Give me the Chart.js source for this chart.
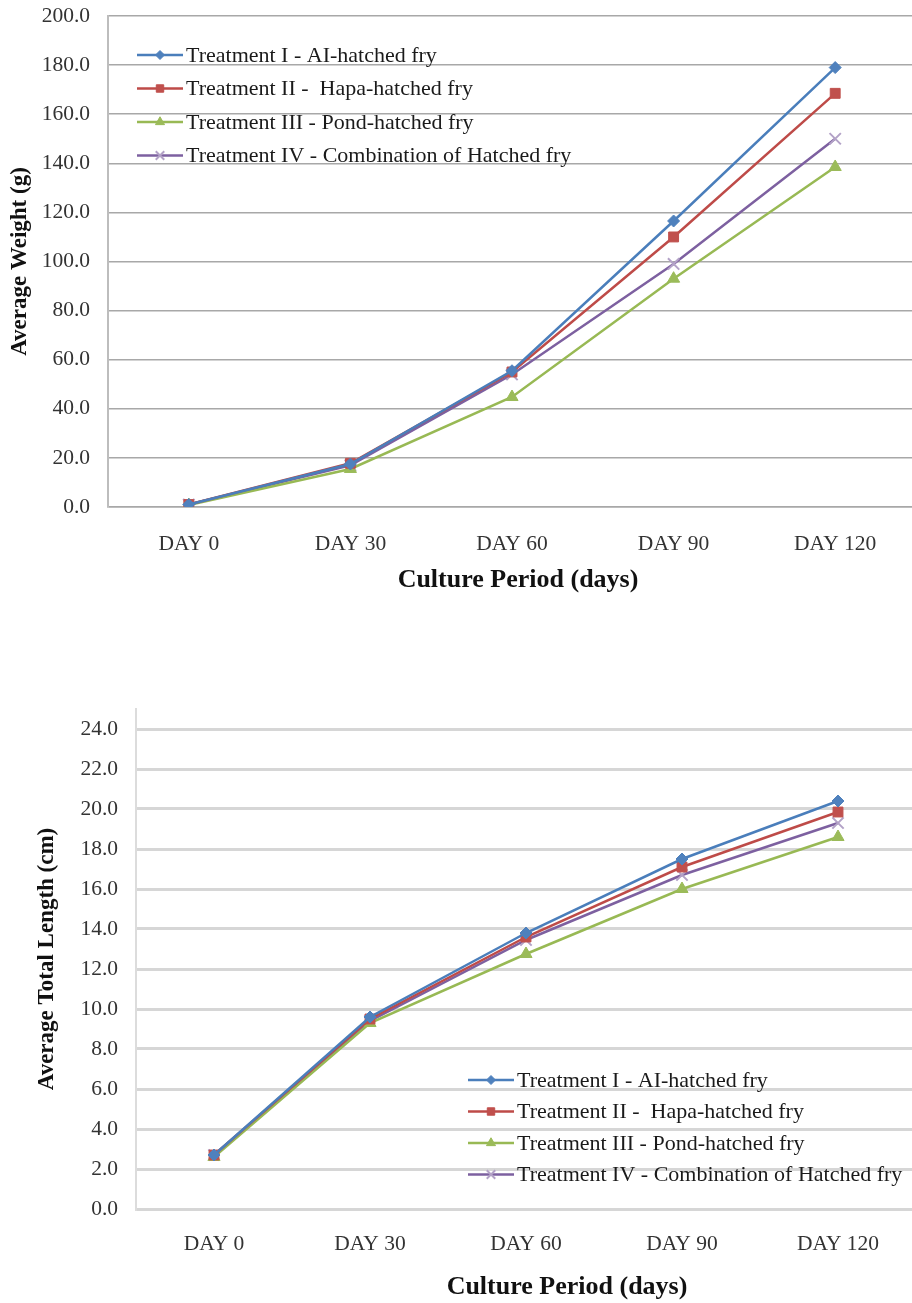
<!DOCTYPE html>
<html>
<head>
<meta charset="utf-8">
<script src="https://cdn.jsdelivr.net/npm/chart.js@4.4.1/dist/chart.umd.min.js"></script>
<style>
  html, body { margin: 0; padding: 0; background: #fff; overflow: hidden; }
  #wrapWeight { position: absolute; left: 0; top: 0; width: 926px; height: 600px; }
  #wrapLength { position: absolute; left: 0; top: 690px; width: 926px; height: 613px; }
</style>
</head>
<body>
<div id="wrapWeight"><canvas id="chartWeight"></canvas></div>
<div id="wrapLength"><canvas id="chartLength"></canvas></div>
<script>
// ---- dados ----
const categories = ['DAY 0', 'DAY 30', 'DAY 60', 'DAY 90', 'DAY 120'];
const seriesNames = [
  'Treatment I - AI-hatched fry',
  'Treatment II -  Hapa-hatched fry',
  'Treatment III - Pond-hatched fry',
  'Treatment IV - Combination of Hatched fry'
];

// peso médio (g)
const weightT1 = [1.0, 17.5, 55.5, 116.5, 179.0];
const weightT2 = [1.0, 17.8, 55.0, 110.0, 168.5];
const weightT3 = [0.8, 15.5, 44.8, 93.0, 138.5];
const weightT4 = [1.0, 17.0, 54.0, 99.0, 150.0];

// comprimento total médio (cm)
const lengthT1 = [2.7, 9.6, 13.8, 17.5, 20.4];
const lengthT2 = [2.7, 9.5, 13.6, 17.1, 19.85];
const lengthT3 = [2.6, 9.3, 12.75, 16.0, 18.6];
const lengthT4 = [2.7, 9.4, 13.45, 16.7, 19.3];

const weightTicks = { min: 0, max: 200, step: 20 };
const lengthTicks = { min: 0, max: 25, step: 2 };

const SERIF = "'Liberation Serif', 'Times New Roman', serif";

// estilo de cada série (cor da linha, marcador)
const estilos = [
  { line: '#4A7EBB', fill: '#4F81BD', style: 'rectRot', r: 6 },
  { line: '#BE4B48', fill: '#C0504D', style: 'rect', r: 7 },
  { line: '#98B954', fill: '#9BBB59', style: 'triangle', r: 7 },
  { line: '#7D60A0', fill: '#B3A2C7', style: 'crossRot', r: 8 }
];

function montarDatasets(series) {
  return series.map((valores, i) => {
    const e = estilos[i];
    return {
      label: seriesNames[i],
      data: valores,
      borderColor: e.line,
      borderWidth: 2.5,
      pointStyle: e.style,
      pointRadius: e.r,
      pointBackgroundColor: e.fill,
      pointBorderColor: e.fill,
      pointBorderWidth: e.style === 'crossRot' ? 2 : 1,
      tension: 0,
      fill: false
    };
  });
}

// Legenda desenhada dentro da área do gráfico
const legendaInterna = {
  id: 'legendaInterna',
  afterDraw(chart, args, opts) {
    const ctx = chart.ctx;
    ctx.save();
    ctx.font = '22px ' + SERIF;
    ctx.textBaseline = 'middle';
    ctx.textAlign = 'left';
    chart.data.datasets.forEach((ds, i) => {
      const y = opts.y + i * opts.gap;
      const x = opts.x;
      ctx.strokeStyle = ds.borderColor;
      ctx.lineWidth = 2.5;
      ctx.beginPath();
      ctx.moveTo(x, y);
      ctx.lineTo(x + 46, y);
      ctx.stroke();
      ctx.fillStyle = ds.pointBackgroundColor;
      ctx.strokeStyle = ds.pointBorderColor;
      ctx.lineWidth = ds.pointBorderWidth;
      Chart.helpers.drawPoint(ctx, {
        pointStyle: ds.pointStyle,
        radius: ds.pointRadius * 0.75,
        borderWidth: ds.pointBorderWidth,
        rotation: 0
      }, x + 23, y);
      ctx.fillStyle = '#1a1a1a';
      ctx.fillText(ds.label, x + 49, y + 1);
    });
    ctx.restore();
  }
};

// Título do eixo X (deslocado como no original)
const tituloX = {
  id: 'tituloX',
  afterDraw(chart, args, opts) {
    const ctx = chart.ctx;
    ctx.save();
    ctx.font = 'bold 26px ' + SERIF;
    ctx.fillStyle = '#111';
    ctx.textAlign = 'center';
    ctx.textBaseline = 'middle';
    ctx.fillText(opts.text, opts.x, opts.y);
    ctx.restore();
  }
};

function criarGrafico(id, series, ticks, cfg) {
  const ctx = document.getElementById(id).getContext('2d');
  return new Chart(ctx, {
    type: 'line',
    data: { labels: categories, datasets: montarDatasets(series) },
    options: {
      responsive: true,
      maintainAspectRatio: false,
      animation: false,
      layout: { padding: { top: cfg.padTop, right: 0, bottom: 0, left: 0 } },
      plugins: {
        legend: { display: false },
        tooltip: { enabled: false },
        legendaInterna: cfg.legenda,
        tituloX: { text: 'Culture Period (days)', x: cfg.xTitleX, y: cfg.xTitleY }
      },
      scales: {
        x: {
          offset: true,
          grid: { display: false, drawTicks: false },
          border: { display: true, color: cfg.gridColor, width: cfg.gridWidth },
          ticks: {
            padding: cfg.xTickPad,
            color: '#333',
            font: { family: SERIF, size: 21.5 },
            maxRotation: 0
          },
          afterFit: (scale) => { scale.height = cfg.xHeight; }
        },
        y: {
          min: ticks.min,
          max: ticks.max,
          grid: { color: cfg.gridColor, lineWidth: cfg.gridWidth, drawTicks: false },
          border: { display: true, color: cfg.axisColor, width: 2 },
          ticks: {
            stepSize: ticks.step,
            padding: 18,
            color: '#333',
            font: { family: SERIF, size: 21.5 },
            callback: (v) => v.toFixed(1)
          },
          afterBuildTicks: (scale) => {
            const lista = [];
            for (let v = ticks.min; v <= ticks.max + 1e-9; v += ticks.step) lista.push({ value: v });
            scale.ticks = lista;
          },
          title: {
            display: true,
            text: cfg.yTitle,
            color: '#111',
            font: { family: SERIF, size: 23, weight: 'bold' },
            padding: { top: cfg.yTitlePad, bottom: 0 }
          },
          afterFit: (scale) => {
            scale.width = cfg.yWidth;
            // sem folga extra acima/abaixo: a área do gráfico fica onde a padding manda
            scale.paddingTop = 0;
            scale.paddingBottom = 0;
          }
        }
      }
    },
    plugins: [legendaInterna, tituloX]
  });
}

criarGrafico('chartWeight', [weightT1, weightT2, weightT3, weightT4], weightTicks, {
  padTop: 16,
  xHeight: 93,
  yWidth: 108,
  xTickPad: 24,
  xTitleX: 518,
  xTitleY: 580,
  yTitlePad: 6,
  yTitle: 'Average Weight (g)',
  gridColor: '#a8a8a8',
  axisColor: '#bdbdbd',
  gridWidth: 1.5,
  legenda: { x: 137, y: 55, gap: 33.5 }
});

criarGrafico('chartLength', [lengthT1, lengthT2, lengthT3, lengthT4], lengthTicks, {
  padTop: 19,
  xHeight: 94,
  yWidth: 136,
  xTickPad: 22,
  xTitleX: 567,
  xTitleY: 597,
  yTitlePad: 33,
  yTitle: 'Average Total Length (cm)',
  gridColor: '#d6d6d6',
  axisColor: '#dcdcdc',
  gridWidth: 3,
  legenda: { x: 468, y: 390, gap: 31.5 }
});
</script>
</body>
</html>
